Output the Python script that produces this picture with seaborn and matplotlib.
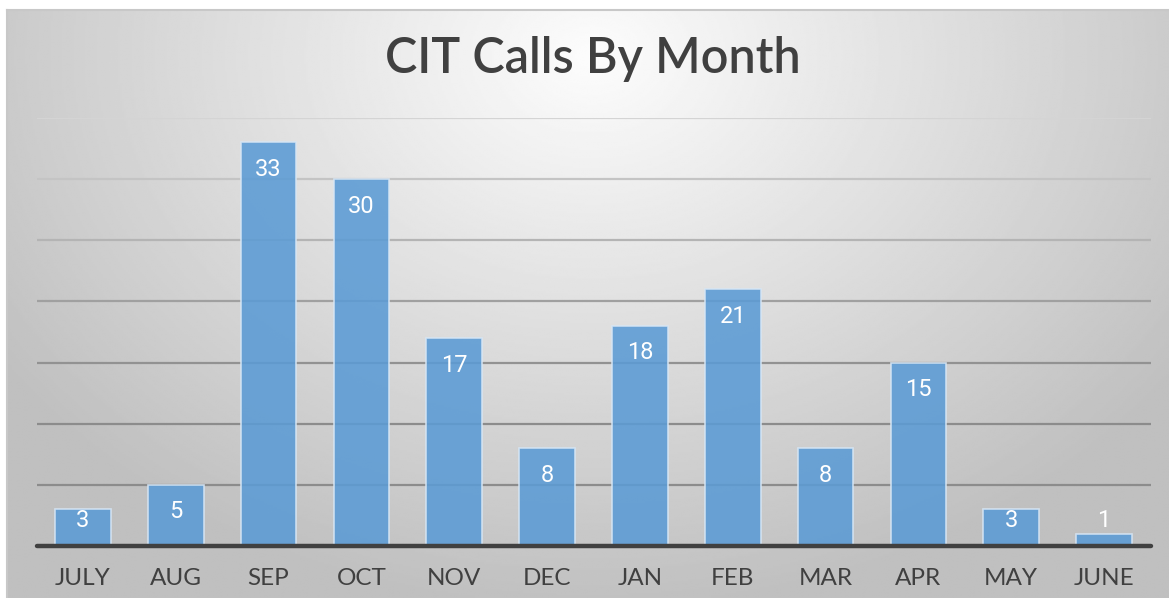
import numpy as np
import pandas as pd
import matplotlib
matplotlib.use("Agg")
import matplotlib.pyplot as plt
import seaborn as sns

# Data
months = ["JULY", "AUG", "SEP", "OCT", "NOV", "DEC",
          "JAN", "FEB", "MAR", "APR", "MAY", "JUNE"]
calls = [3, 5, 33, 30, 17, 8, 18, 21, 8, 15, 3, 1]
y_ticks = [0, 5, 10, 15, 20, 25, 30, 35]

BAR_COLOR = "#5b9bd5"
TEXT_COLOR = "#404040"

df = pd.DataFrame({"month": months, "calls": calls})

sns.set_theme(style="white")
plt.rcParams["font.family"] = ["Lato", "DejaVu Sans"]

W, H = 11.69, 5.98
fig = plt.figure(figsize=(W, H), dpi=100)
fig.patch.set_facecolor("white")

# radial gradient background inside the chart frame
bg = fig.add_axes([7 / 1169, 0, 1 - 7 / 1169, 588 / 598], zorder=0)
gx, gy = np.meshgrid(np.linspace(0, 1162, 600), np.linspace(0, 588, 300))
r = np.sqrt(((gx - 585) / 720) ** 2 + ((gy - 45) / 560) ** 2)
shade = 0.99 - 0.24 * np.clip(r, 0, 1)
bg.imshow(shade, cmap="gray", vmin=0, vmax=1, aspect="auto",
          extent=[0, 1, 0, 1], origin="upper", interpolation="bilinear")
bg.set_xticks([])
bg.set_yticks([])
for s in bg.spines.values():
    s.set_visible(False)
for side in ["top", "left"]:
    bg.spines[side].set_visible(True)
    bg.spines[side].set_color("#c8c8c8")
    bg.spines[side].set_linewidth(1.5)

# main plot
ax = fig.add_axes([36.5 / 1169, 52 / 598, (1150.5 - 36.5) / 1169, (546 - 118) / 598], zorder=1)
ax.patch.set_alpha(0)

# gridlines get darker toward the bottom
grid_colors = ["#8c8c8c", "#8c8c8c", "#929292", "#a0a0a0", "#b4b4b4", "#c4c4c4", "#d4d4d4"]
for val, c in zip(y_ticks[1:], grid_colors):
    ax.axhline(val, color=c, linewidth=1.6, zorder=1)

sns.barplot(data=df, x="month", y="calls", color=BAR_COLOR, saturation=1,
            width=0.6, edgecolor="#d6e6f5", linewidth=1.2, alpha=0.88,
            ax=ax, zorder=2)

# labels sit just inside the bar top, but never below a minimum height
for i, v in enumerate(calls):
    ax.text(i, max(v - 2.2, 2.05), str(v), ha="center", va="center", color="white",
            fontsize=17, family=["Roboto", "DejaVu Sans"], zorder=4)

ax.axhline(0, color="#404040", linewidth=3.2, zorder=5, clip_on=False)

ax.set_ylim(0, 35)
ax.set_xlim(-0.5, len(months) - 0.5)
ax.set_yticks([])
ax.set_xlabel("")
ax.set_ylabel("")
ax.tick_params(axis="x", length=0, pad=16, labelsize=17.5, colors=TEXT_COLOR)
for s in ax.spines.values():
    s.set_visible(False)

fig.text(593 / 1169, 1 - 59 / 598, "CIT Calls By Month", ha="center", va="center",
         fontsize=35, fontweight="semibold", color=TEXT_COLOR)

fig.savefig("out.png", dpi=100)
